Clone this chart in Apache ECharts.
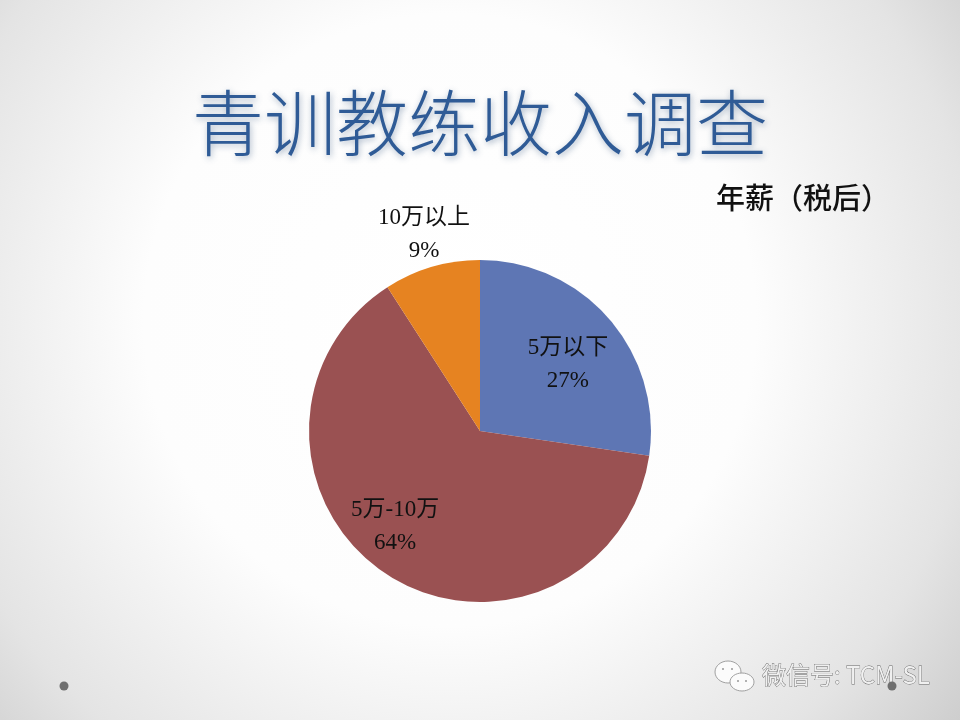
<!DOCTYPE html>
<html><head><meta charset="utf-8">
<style>html,body{margin:0;padding:0;background:#fff}#c{width:960px;height:720px}</style>
<script src="https://cdn.jsdelivr.net/npm/echarts@6/dist/echarts.min.js"></script>
</head><body><div id="c"></div>
<script>
const categories = ['5万以下', '5万-10万', '10万以上'];
const shares = [27.3, 63.6, 9.1];
const sliceColors = ['#5e76b4', '#9a5152', '#e68321'];
const titleText = '青训教练收入调查';
const subtitleText = '年薪（税后）';
const watermarkText = '微信号: TCM-SL';

const labelFont = '"Liberation Serif","Noto Sans CJK SC",serif';
const labelBase = {fontFamily: labelFont, fontSize: 23, lineHeight: 33, color: '#111', formatter: '{b}\n{d}%', position: 'inside'};
const labelOffsets = [[21, -9], [-37, 21], [-31, -112]];
const bubble = (cx, cy, rx, ry) => ({
  type: 'ellipse', silent: true,
  shape: {cx, cy, rx, ry},
  style: {fill: '#fbfbfb', stroke: '#a0a0a0', lineWidth: 1}
});
const eye = (cx, cy) => ({type: 'circle', silent: true, shape: {cx, cy, r: 1}, style: {fill: '#999'}});
const dot = (cx, cy) => ({type: 'circle', silent: true, shape: {cx, cy, r: 4.5}, style: {fill: '#6f6f6f'}});

const chart = echarts.init(document.getElementById('c'), null, {renderer: 'canvas'});
chart.setOption({
  animation: false,
  backgroundColor: new echarts.graphic.RadialGradient(450, 320, 680, [
    {offset: 0, color: '#ffffff'},
    {offset: 0.45, color: '#fdfdfd'},
    {offset: 0.78, color: '#e4e4e4'},
    {offset: 1, color: '#c8c8c8'}
  ], true),
  title: [
    {text: titleText, left: 475, top: 82, textAlign: 'center',
     textStyle: {fontFamily: '"Noto Sans CJK SC"', fontWeight: 300, fontSize: 72, color: '#2f5b96',
       textShadowColor: 'rgba(60,90,130,0.45)', textShadowBlur: 6, textShadowOffsetX: 1, textShadowOffsetY: 2}},
    {text: subtitleText, left: 711, top: 178,
     textStyle: {fontFamily: '"Noto Sans CJK SC"', fontWeight: 500, fontSize: 29, color: '#111'}}
  ],
  graphic: [
    bubble(728, 672, 13, 11), bubble(742, 682, 12, 9),
    eye(723, 669), eye(732, 669), eye(738, 681), eye(746, 681),
    {type: 'text', silent: true, style: {text: watermarkText, x: 762, y: 663, fontFamily: '"Noto Sans CJK SC"', fontSize: 24,
      fill: '#f0f0f0', stroke: '#666', lineWidth: 0.8}},
    dot(64, 686), dot(892, 686)
  ],
  series: [{
    type: 'pie',
    center: [480, 431],
    radius: [0, 171],
    startAngle: 90,
    clockwise: true,
    silent: true,
    percentPrecision: 0,
    labelLine: {show: false},
    data: categories.map((name, i) => ({
      name, value: shares[i],
      itemStyle: {color: sliceColors[i]},
      label: Object.assign({show: true, offset: labelOffsets[i]}, labelBase),
      labelLine: {show: false}
    }))
  }]
});
</script></body></html>
